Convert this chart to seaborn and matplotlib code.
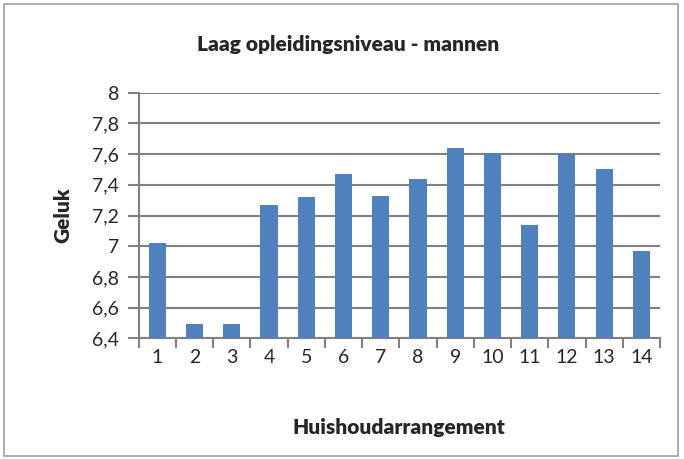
import matplotlib
matplotlib.use("Agg")
import matplotlib.pyplot as plt
import seaborn as sns
import pandas as pd
from matplotlib.patches import Rectangle
from matplotlib.ticker import FuncFormatter

categories = [str(i) for i in range(1, 15)]
values = [7.02, 6.49, 6.49, 7.27, 7.32, 7.47, 7.33, 7.44, 7.64, 7.61, 7.14, 7.60, 7.50, 6.97]
yticks = [6.4, 6.6, 6.8, 7.0, 7.2, 7.4, 7.6, 7.8, 8.0]

title = "Laag opleidingsniveau - mannen"
xlabel = "Huishoudarrangement"
ylabel = "Geluk"

sns.set_theme(style="white")
plt.rcParams['font.family'] = ['Lato', 'DejaVu Sans']

df = pd.DataFrame({"cat": categories, "val": values})

fig = plt.figure(figsize=(6.84, 4.59), dpi=100)
ax = fig.add_axes([138.7/684, 1 - 338.3/459, (660 - 138.7)/684, (338.3 - 92.7)/459])

sns.barplot(data=df, x="cat", y="val", color="#4F81BD", saturation=1, width=0.46, ax=ax,
            linewidth=0, zorder=3)
ax.set_ylim(6.4, 8.0)
ax.set_xlim(-0.5, 13.5)
ax.set_yticks(yticks)
ax.yaxis.set_major_formatter(FuncFormatter(lambda v, p: f"{v:.1f}".rstrip('0').rstrip('.').replace('.', ',')))
ax.grid(axis='y', color='#808080', linewidth=1.5, zorder=0)
ax.set_axisbelow(True)

for s in ['top', 'right']:
    ax.spines[s].set_visible(False)
for s in ['left', 'bottom']:
    ax.spines[s].set_color('#808080')
    ax.spines[s].set_linewidth(1.5)

ax.tick_params(axis='y', which='major', length=8, width=1.5, color='#808080', labelsize=14, pad=6, left=True)
ax.tick_params(axis='x', which='major', length=0, labelsize=14, pad=8)
ax.set_xticks(range(14))
ax.set_xticks([i - 0.5 for i in range(15)], minor=True)
ax.tick_params(axis='x', which='minor', length=7, width=1.5, color='#808080', bottom=True)

ax.set_xlabel(xlabel, fontsize=15, fontweight='heavy', labelpad=37)
ax.set_ylabel(ylabel, fontsize=15, fontweight='heavy', labelpad=14)
fig.text(348/684, 1 - 45/459, title, ha='center', va='center', fontsize=15, fontweight='heavy')

fig.patches.append(Rectangle((4/684, 3/459), 674/684, 452/459, transform=fig.transFigure,
                             fill=False, edgecolor='#A0A0A0', linewidth=1.2))

fig.savefig("out.png", dpi=100)
